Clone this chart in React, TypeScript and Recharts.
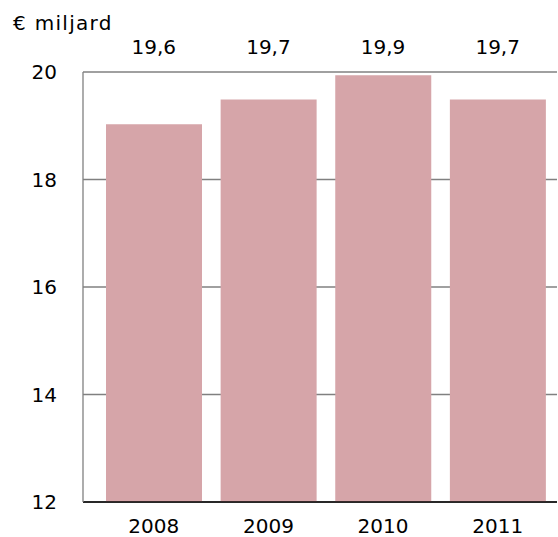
import { BarChart, Bar, XAxis, YAxis, CartesianGrid } from "recharts";

const years = ["2008", "2009", "2010", "2011"];
const barValues = [19.03, 19.49, 19.94, 19.49];
const topLabels = ["19,6", "19,7", "19,9", "19,7"];
const yTicks = [12, 14, 16, 18, 20];

const data = years.map((year, i) => ({ year, value: barValues[i] }));

const font = "'DejaVu Sans', Verdana, sans-serif";
const tickStyle = { fill: "#000", fontSize: 20, fontFamily: font };

export default function App() {
  return (
    <div style={{ position: "absolute", left: 0, top: 0, width: 558, height: 537, background: "#fff" }}>
      <div
        style={{
          position: "absolute",
          left: 13,
          top: 11,
          fontFamily: font,
          fontSize: 20,
          letterSpacing: 1.3,
          color: "#000",
          whiteSpace: "nowrap"
        }}
      >
        € miljard
      </div>
      <BarChart
        width={558}
        height={537}
        data={data}
        margin={{ top: 0, right: 1, bottom: 0, left: 0 }}
        barCategoryGap={9.5}
      >
        <CartesianGrid vertical={false} stroke="#808080" strokeWidth={1.3} />
        <XAxis
          dataKey="year"
          height={35}
          padding={{ left: 13.5, right: 2 }}
          tickLine={false}
          tickSize={0}
          tickMargin={17}
          axisLine={{ stroke: "#000", strokeWidth: 1.3 }}
          tick={tickStyle}
        />
        <XAxis
          xAxisId="top"
          dataKey="year"
          orientation="top"
          height={72}
          padding={{ left: 13.5, right: 2 }}
          tickLine={false}
          tickSize={0}
          tickMargin={18}
          axisLine={false}
          tick={tickStyle}
          tickFormatter={(_v: string, i: number) => topLabels[i]}
        />
        <YAxis
          domain={[12, 20]}
          ticks={yTicks}
          width={83}
          tickLine={false}
          tickSize={0}
          tickMargin={26}
          axisLine={{ stroke: "#808080", strokeWidth: 1.3 }}
          tick={tickStyle}
          allowDataOverflow
        />
        <Bar dataKey="value" fill="#d6a5a9" isAnimationActive={false} />
      </BarChart>
    </div>
  );
}
